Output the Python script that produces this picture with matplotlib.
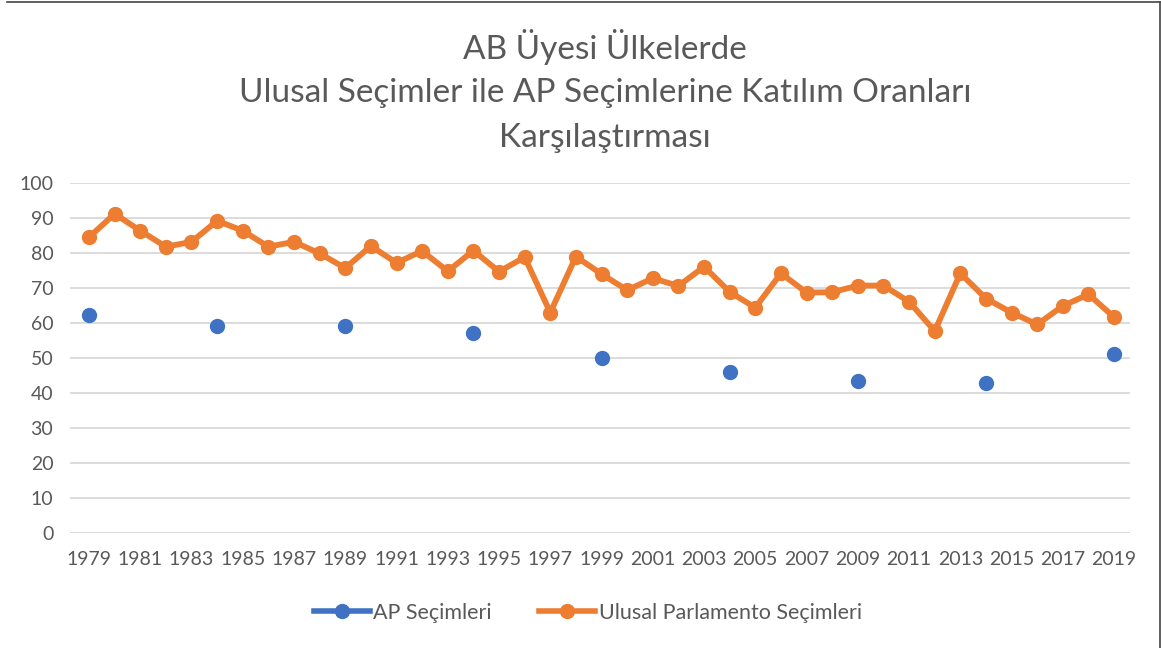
import matplotlib
matplotlib.use("Agg")
import matplotlib.pyplot as plt
from matplotlib.lines import Line2D
import numpy as np

plt.rcParams["font.family"] = ["Lato", "DejaVu Sans"]

# values
years = list(range(1979, 2020))
national = [84.4, 91.1, 86.3, 81.7, 83.1, 89.1, 86.3, 81.7, 83.1, 79.8,
            75.6, 81.9, 77.1, 80.5, 74.7, 80.6, 74.6, 78.7, 62.9, 78.9,
            73.9, 69.3, 72.7, 70.5, 76.0, 68.8, 64.3, 74.1, 68.6, 68.7,
            70.6, 70.6, 66.0, 57.6, 74.1, 66.9, 62.9, 59.5, 64.8, 68.1,
            61.6]
ap_years = [1979, 1984, 1989, 1994, 1999, 2004, 2009, 2014, 2019]
ap_values = [62.2, 59.1, 59.1, 57.0, 49.8, 45.9, 43.4, 42.7, 51.1]

title_lines = ["AB Üyesi Ülkelerde",
               "Ulusal Seçimler ile AP Seçimlerine Katılım Oranları",
               "Karşılaştırması"]
ap_label = "AP Seçimleri"
nat_label = "Ulusal Parlamento Seçimleri"

BLUE = "#3F72C2"
ORANGE = "#ED7D31"
GRAY = "#595959"
GRID = "#D9D9D9"

W, H = 1161, 648
fig = plt.figure(figsize=(W / 100, H / 100), dpi=100)
ax = fig.add_axes([70 / W, 1 - 532.7 / H, (1130 - 70) / W, 350 / H])

ax.plot(years, national, color=ORANGE, linewidth=4.2, marker="o",
        markersize=10, zorder=3, solid_joinstyle="round")
ax.plot(ap_years, ap_values, linestyle="none", color=BLUE, marker="o",
        markersize=10, zorder=4)

ax.set_xlim(1978.26, 2019.62)
ax.set_ylim(0, 100)
ax.set_yticks(np.arange(0, 101, 10))
ax.set_xticks(years[::2])
ax.tick_params(length=0, labelsize=14, colors=GRAY)
ax.tick_params(axis="x", pad=13)
ax.tick_params(axis="y", pad=12)
ax.grid(axis="y", color=GRID, linewidth=1.3)
ax.set_axisbelow(True)
for s in ax.spines.values():
    s.set_visible(False)

for i, line in enumerate(title_lines):
    fig.text(605 / W, 1 - (47 + 45.5 * i) / H, line, ha="center", va="center",
             fontsize=24, color=GRAY)

handles = [Line2D([], [], color=BLUE, linewidth=4, marker="o", markersize=10),
           Line2D([], [], color=ORANGE, linewidth=4, marker="o", markersize=10)]
fig.legend(handles, [ap_label, nat_label], loc="center",
           bbox_to_anchor=(588 / W, 1 - 613 / H), ncol=2, frameon=False,
           fontsize=15.5, labelcolor=GRAY, handlelength=2.6, handletextpad=0.15,
           columnspacing=2.2)

# thin frame on top and right
fig.add_artist(Line2D([7 / W, 1160 / W], [1 - 2 / H, 1 - 2 / H],
                      color="#444444", linewidth=1.2))
fig.add_artist(Line2D([1160 / W, 1160 / W], [1 - 2 / H, 0],
                      color="#444444", linewidth=1.2))

fig.savefig("out.png", dpi=100)
